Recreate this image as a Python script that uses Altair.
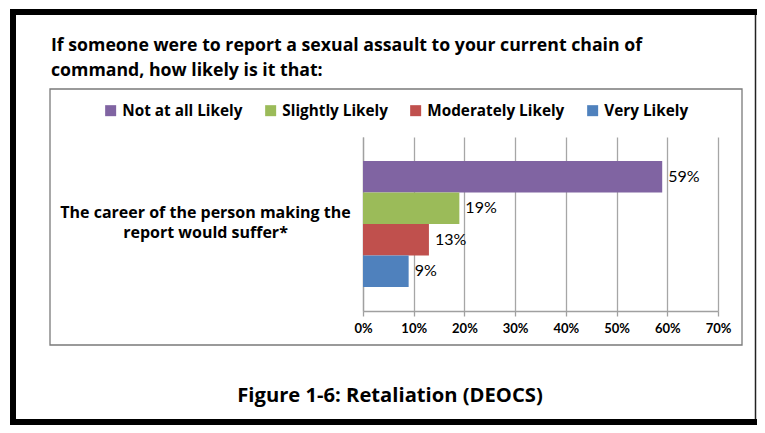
import json
import altair as alt
import pandas as pd

# ---- data -------------------------------------------------------------
title_lines = [
    "If someone were to report a sexual assault to your current chain of",
    "command, how likely is it that:",
]
category_lines = ["The career of the person making the", "report would suffer*"]
category = " ".join(category_lines)
series = ["Not at all Likely", "Slightly Likely", "Moderately Likely", "Very Likely"]
values = [59, 19, 13, 9]
colors = ["#8064A2", "#9BBB59", "#C0504D", "#4F81BD"]
x_ticks = [0, 10, 20, 30, 40, 50, 60, 70]
caption = "Figure 1-6: Retaliation (DEOCS)"

df = pd.DataFrame({
    "question": [category] * len(series),
    "response": series,
    "pct": values,
    "label": [f"{v}%" for v in values],
})

FONT = "Lato"
BFONT = "Open Sans"
PW, PH = 355, 174          # plot area
PAD = {"left": 355, "top": 129, "right": 39, "bottom": 114}

one = alt.Data(values=[{}])

# ---- decorations (frame, chart box, titles) ---------------------------
frame_left = alt.Chart(one).mark_rect(color="black").encode(
    x=alt.value(-353), x2=alt.value(-347), y=alt.value(-128), y2=alt.value(288))
frame_top = alt.Chart(one).mark_rect(color="black").encode(
    x=alt.value(-353), x2=alt.value(394), y=alt.value(-128), y2=alt.value(-122))
frame_bottom = alt.Chart(one).mark_rect(color="black").encode(
    x=alt.value(-353), x2=alt.value(394), y=alt.value(282), y2=alt.value(288))
frame_right = alt.Chart(one).mark_rule(color="#222222", strokeWidth=1.5).encode(
    x=alt.value(392.5), y=alt.value(-122), y2=alt.value(282))
box = alt.Chart(one).mark_rect(filled=False, stroke="#7a7a7a", strokeWidth=1.3).encode(
    x=alt.value(-313), x2=alt.value(379), y=alt.value(-48), y2=alt.value(208))

title = alt.Chart(one).mark_text(
    text=title_lines, font=BFONT, fontWeight="bold", fontSize=17.7, align="left",
    baseline="alphabetic", lineHeight=25, color="black",
).encode(x=alt.value(-312), y=alt.value(-86))

cap = alt.Chart(one).mark_text(
    text=caption, font=BFONT, fontWeight="bold", fontSize=20.2, align="center",
    baseline="middle", color="black",
).encode(x=alt.value(27), y=alt.value(259))

# ---- bars -------------------------------------------------------------
label_expr = json.dumps(category_lines)

base = alt.Chart(df).encode(
    x=alt.X("pct:Q",
            scale=alt.Scale(domain=[0, 70], nice=False),
            axis=alt.Axis(values=x_ticks, labelExpr="datum.value + '%'", title=None,
                          grid=True, gridColor="#a6a6a6", gridWidth=1.3,
                          domainColor="#a0a0a0", domainWidth=1.3,
                          tickColor="#a0a0a0", tickWidth=1.3, tickSize=5,
                          labelFont=FONT, labelFontWeight="bold", labelFontSize=13,
                          labelColor="black", labelPadding=6, labelFlush=False,
                          labelOverlap=False)),
    y=alt.Y("question:N",
            scale=alt.Scale(paddingOuter=0.19, paddingInner=0),
            axis=alt.Axis(title=None, labelExpr=label_expr, ticks=False,
                          domainColor="#a0a0a0", domainWidth=1.3,
                          labelFont=BFONT, labelFontWeight="bold", labelFontSize=16,
                          labelColor="black", labelAlign="center", labelBaseline="middle",
                          labelPadding=158, labelLineHeight=20, labelOffset=-11,
                          labelLimit=400)),
    yOffset=alt.YOffset("response:N", sort=series,
                        scale=alt.Scale(paddingInner=0, paddingOuter=0)),
)

bars = base.mark_bar().encode(
    color=alt.Color("response:N",
                    scale=alt.Scale(domain=series, range=colors),
                    legend=alt.Legend(orient="none", legendX=-260, legendY=-34,
                                      direction="horizontal", title=None,
                                      symbolType="square", symbolSize=121,
                                      symbolStrokeWidth=0, symbolOpacity=1,
                                      labelFont=BFONT, labelFontWeight="bold",
                                      labelFontSize=15.3, labelColor="black",
                                      labelOffset=4, columnPadding=20, padding=0,
                                      labelLimit=300)),
)

labels = base.mark_text(align="left", baseline="middle", dx=6, font=FONT,
                        fontSize=16, color="black").encode(text="label:N")

chart = alt.layer(
    frame_left, frame_top, frame_bottom, frame_right, box, title, cap, bars, labels
).properties(
    width=PW, height=PH,
    autosize=alt.AutoSizeParams(type="none"),
    padding=PAD,
    background="white",
).configure_view(stroke=None)

chart.save("out.html", embed_options={"renderer": "svg", "actions": False})
